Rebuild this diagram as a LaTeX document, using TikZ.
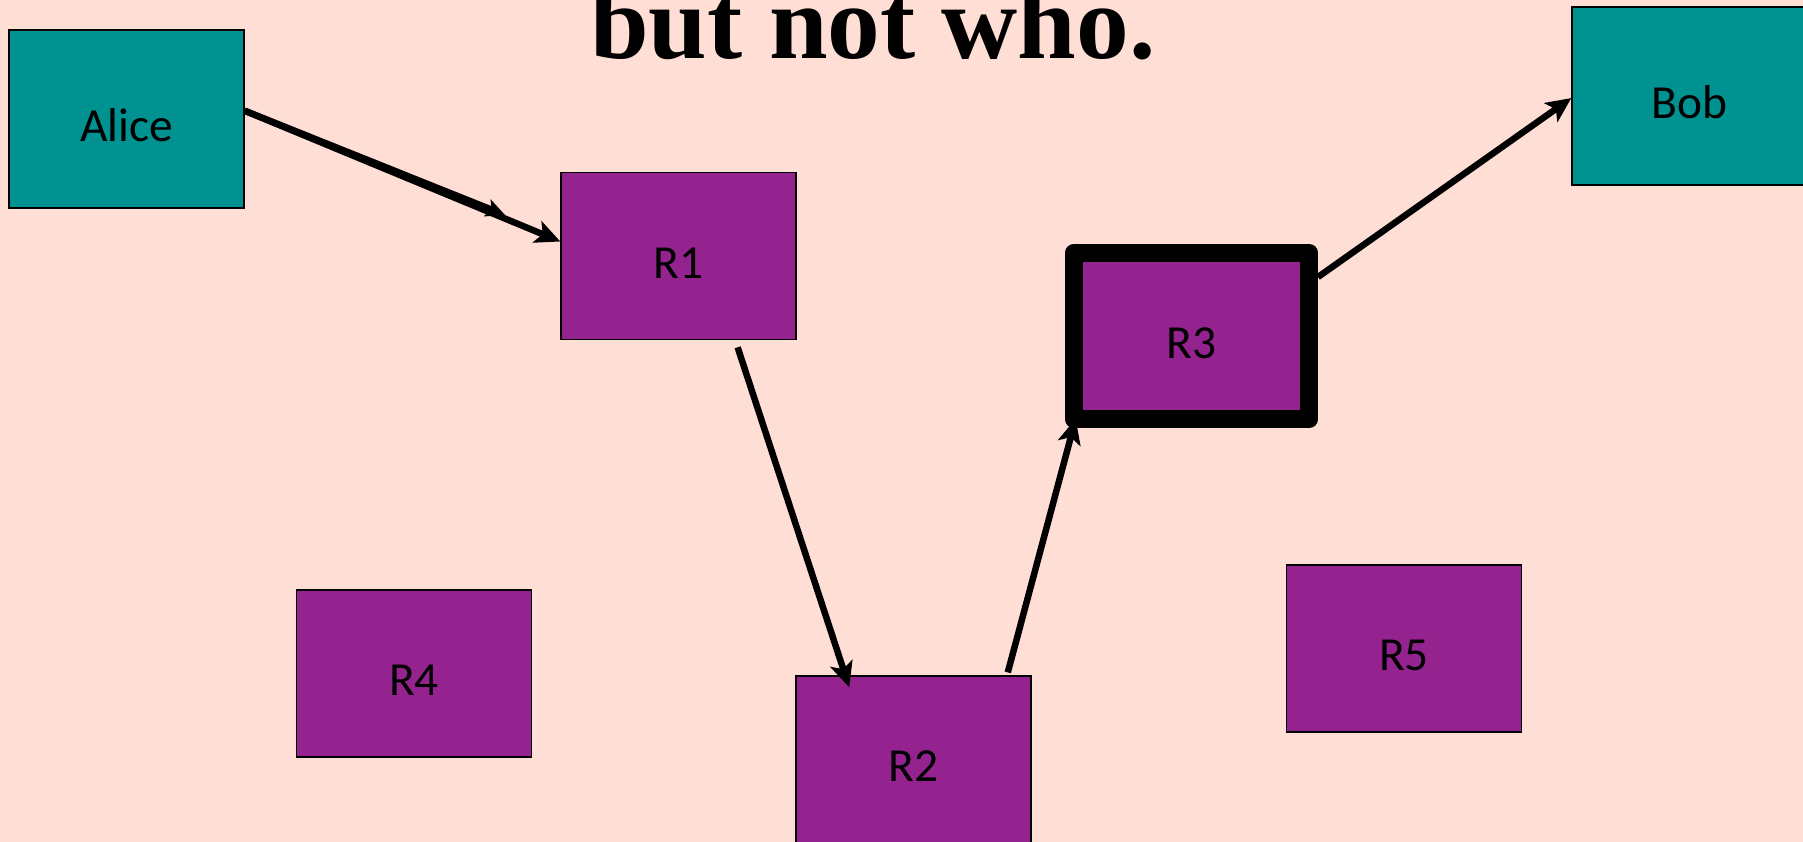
\documentclass[tikz,border=0pt]{standalone}
\usepackage{fontspec}
\setmainfont{Carlito}
\newfontfamily\titlefont{Liberation Serif}
\usetikzlibrary{arrows.meta}
\definecolor{peach}{RGB}{255,223,213}
\definecolor{hostteal}{RGB}{0,145,145}
\definecolor{routerpurple}{RGB}{148,34,143}
\begin{document}
\begin{tikzpicture}[x=0.02cm, y=-0.02cm,
  box/.style={draw, line width=0.8pt, fill=routerpurple, minimum width=4.7cm, minimum height=3.34cm, text height=25.4pt, text depth=0pt, font=\fontsize{27}{32}\selectfont},
  host/.style={box, fill=hostteal, minimum height=3.56cm},
  link/.style={line width=0.13cm, -{Stealth[length=0.5cm, width=0.46cm, inset=0.12cm]}}]
\fill[peach] (0,0) rectangle (1803,842);
\useasboundingbox (0,0) rectangle (1803,842);
\node[anchor=base, font=\titlefont\bfseries\fontsize{60}{72}\selectfont] (title) at (873,58.5) {but not who.};
\node[host] (alice) at (126.5,119) {Alice};
\node[host] (bob) at (1689.5,96) {Bob};
\node[box] (r1) at (678.5,256) {R1};
\node[box] (r2) at (913.5,759.5) {R2};
\node[box, line width=0.36cm, line join=round] (r3) at (1191.5,336) {R3};
\node[box] (r4) at (414,673.5) {R4};
\node[box] (r5) at (1404,648.5) {R5};
\coordinate (mid) at (505,215);
\draw[link, -{Stealth[length=0.38cm, width=0.36cm, inset=0.09cm]}] (alice.4.4) -- (mid);
\draw[link] (alice.4.4) -- (r1.173);
\draw[link, shorten <=0.15cm, shorten >=-0.25cm] (r1.-56) -- (r2.129.4);
\draw[link, shorten <=0.06cm, shorten >=-0.2cm] (r2.42.6) -- (r3.-142.4);
\draw[link] (r3.25.6) -- (bob.181.5);
\end{tikzpicture}
\end{document}
